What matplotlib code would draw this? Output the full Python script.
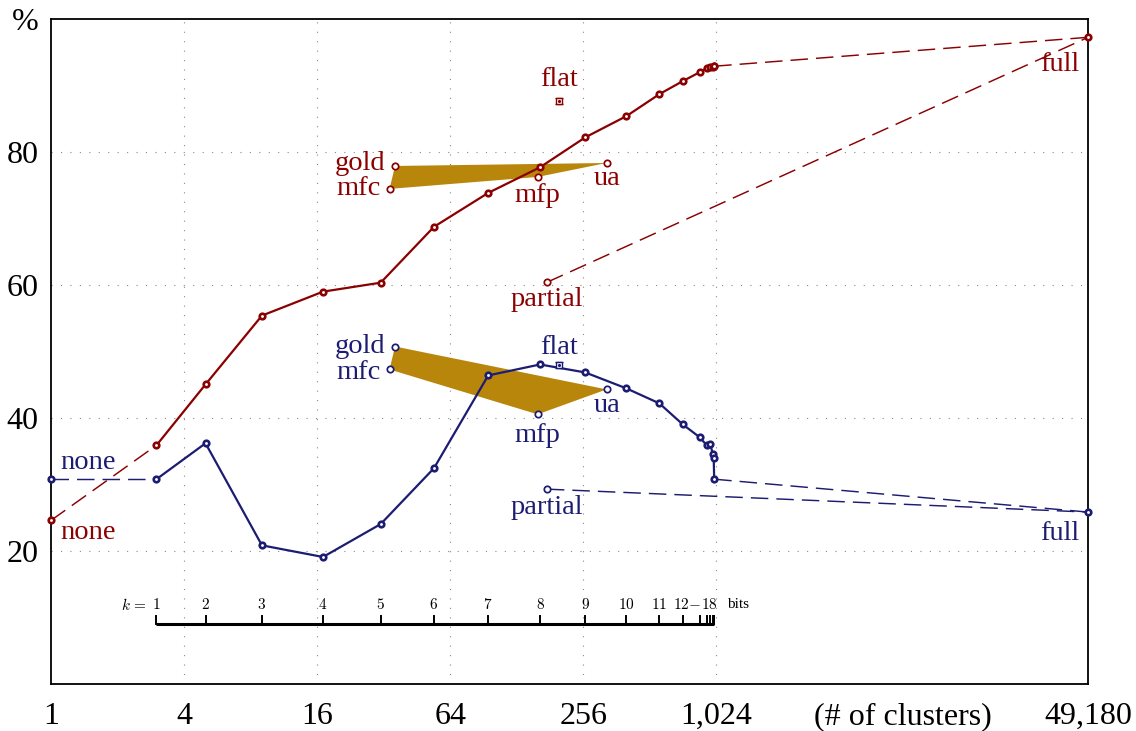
import matplotlib
matplotlib.use('Agg')
import matplotlib.pyplot as plt

plt.rcParams['font.family'] = ['Liberation Serif', 'DejaVu Serif']
plt.rcParams['mathtext.fontset'] = 'cm'

RED = '#8b0000'
BLUE = '#1c1c72'
GOLD = '#b8860b'
GRID = '#8a8a8a'

# ---------------- data ----------------
k_bits = list(range(1, 19))
k_clusters = [3, 5, 9, 17, 31, 54, 95, 163, 261, 401, 565, 720, 860, 925, 962, 985, 995, 1000]
red_k = [35.9, 45.05, 55.4, 59.0, 60.35, 68.75, 73.85, 77.7, 82.2, 85.4, 88.7, 90.65,
         92.0, 92.6, 92.75, 92.8, 92.9, 92.9]
blue_k = [30.8, 36.2, 20.85, 19.1, 24.05, 32.45, 46.4, 48.05, 46.85, 44.45, 42.2, 39.05,
          37.1, 35.9, 36.05, 34.55, 33.95, 30.8]

none_x = 1
full_x = 49180
partial_x = 175
flat_x = 198

method_names = ['gold', 'ua', 'mfp', 'mfc']
method_x = [36, 326, 159, 34]
red_methods = [77.9, 78.35, 76.25, 74.45]
blue_methods = [50.75, 44.3, 40.55, 47.3]

red_none, red_full, red_partial, red_flat = 24.6, 97.25, 60.4, 87.6
blue_none, blue_full, blue_partial, blue_flat = 30.8, 25.85, 29.3, 47.9
flat_err = 0.45

xtick_vals = [1, 4, 16, 64, 256, 1024, 7130, 49180]
xtick_labels = ['1', '4', '16', '64', '256', '1,024', '(# of clusters)', '49,180']
xgrid_vals = [4, 16, 64, 256, 1024]
ytick_vals = [20, 40, 60, 80, 100]
ytick_labels = ['20', '40', '60', '80', '%']
ygrid_vals = [20, 40, 60, 80]

k_tick_labels = [str(k) for k in range(1, 12)]

# ---------------- figure ----------------
fig = plt.figure(figsize=(11.36, 7.31), dpi=100)
ax = fig.add_axes([0.0449, 0.0643, 0.913, 0.9097])
ax.set_xscale('log', base=2)
ax.set_xlim(1, 49180)
ax.set_ylim(0, 100)

for s in ax.spines.values():
    s.set_linewidth(1.3)
    s.set_color('black')

ax.set_xticks(xtick_vals)
ax.set_xticklabels(xtick_labels)
ax.xaxis.set_minor_locator(matplotlib.ticker.NullLocator())
ax.set_yticks(ytick_vals)
ax.set_yticklabels(ytick_labels)
ax.tick_params(axis='both', length=0, labelsize=23)
ax.tick_params(axis='x', pad=13)
ax.tick_params(axis='y', pad=9)

dot = (0, (1, 7.5))
for gx in xgrid_vals:
    ax.axvline(gx, color=GRID, lw=0.8, ls=dot, zorder=0.5)
for gy in ygrid_vals:
    ax.axhline(gy, color=GRID, lw=0.8, ls=dot, zorder=0.5)

# method polygons
ax.fill(method_x, red_methods, color=GOLD, zorder=1, lw=0)
ax.fill(method_x, blue_methods, color=GOLD, zorder=1, lw=0)

line_marker = dict(marker='o', ms=4.0, mew=1.9, mfc='white')
open_marker = dict(marker='o', ms=4.6, mew=1.25, mfc='white', ls='none', zorder=5)
dash = (0, (12, 5.5))

for color, kv, nonev, fullv, partv, flatv, meth in [
        (RED, red_k, red_none, red_full, red_partial, red_flat, red_methods),
        (BLUE, blue_k, blue_none, blue_full, blue_partial, blue_flat, blue_methods)]:
    # dashed connectors
    ax.plot([none_x, k_clusters[0]], [nonev, kv[0]], color=color, lw=1.05, ls=dash, zorder=2)
    ax.plot([k_clusters[-1], full_x], [kv[-1], fullv], color=color, lw=1.05, ls=dash, zorder=2)
    ax.plot([partial_x, full_x], [partv, fullv], color=color, lw=1.05, ls=dash, zorder=2)
    # main solid line
    ax.plot(k_clusters, kv, color=color, lw=1.6, mec=color, zorder=3, **line_marker)
    # none / full endpoints
    ax.plot([none_x, full_x], [nonev, fullv], ls='none', color=color, mec=color,
            zorder=4, clip_on=False, **line_marker)
    # partial & methods
    ax.plot([partial_x], [partv], mec=color, **open_marker)
    ax.plot(method_x, meth, mec=color, **open_marker)
    # flat with error bar
    ax.errorbar([flat_x], [flatv], yerr=flat_err, fmt='s', ms=4.2, mfc='white', mec=color,
                mew=1.0, ecolor=color, elinewidth=1.0, capsize=3.2, capthick=1.6, zorder=5)
    ax.plot([flat_x], [flatv], marker='.', ms=2.5, color=color, zorder=6)

LFS = 20.5


def label(text, x, y, dx, dy, color, ha='center'):
    ax.annotate(text, (x, y), xytext=(dx, dy), textcoords='offset points',
                ha=ha, va='center', color=color, fontsize=LFS, zorder=7)


# red labels
label('flat', flat_x, red_flat, 0, 16, RED)
label('gold', method_x[0], red_methods[0], -7, 1.5, RED, 'right')
label('mfc', method_x[3], red_methods[3], -6.5, 0, RED, 'right')
label('mfp', method_x[2], red_methods[2], 0, -13.5, RED)
label('ua', method_x[1], red_methods[1], 0, -11.5, RED)
label('partial', partial_x, red_partial, 0, -12.5, RED)
label('full', full_x, red_full, -6.5, -19.5, RED, 'right')
label('none', none_x, red_none, 6.5, -8.5, RED, 'left')
# blue labels
label('flat', flat_x, blue_flat, 0, 13, BLUE)
label('gold', method_x[0], blue_methods[0], -7, 0, BLUE, 'right')
label('mfc', method_x[3], blue_methods[3], -6.5, -2, BLUE, 'right')
label('mfp', method_x[2], blue_methods[2], 0, -15, BLUE)
label('ua', method_x[1], blue_methods[1], 0, -11.5, BLUE)
label('partial', partial_x, blue_partial, 0, -13.5, BLUE)
label('full', full_x, blue_full, -6.5, -15.5, BLUE, 'right')
label('none', none_x, blue_none, 6.5, 12, BLUE, 'left')

# k-bits scale
kaxis_y = 9.0
ktick_top = 10.2
klabel_y = 11.9
ax.plot([k_clusters[0], k_clusters[-1]], [kaxis_y, kaxis_y], color='black', lw=2.2,
        solid_capstyle='butt', zorder=3)
for c in k_clusters:
    ax.plot([c, c], [kaxis_y, ktick_top], color='black', lw=1.4, zorder=3)
for c, t in zip(k_clusters[:11], k_tick_labels):
    ax.text(c, klabel_y, '$' + t + '$', ha='center', va='center', fontsize=11)
ax.annotate('$k\\,=$', (k_clusters[0], klabel_y), xytext=(-7, 0), textcoords='offset points',
            ha='right', va='center', fontsize=11)
ax.annotate('$12\\!-\\!18$', (k_clusters[11], klabel_y), xytext=(-6.8, 0),
            textcoords='offset points', ha='left', va='center', fontsize=11)
ax.annotate('bits', (k_clusters[-1], klabel_y), xytext=(9, 0), textcoords='offset points',
            ha='left', va='center', fontsize=11)

fig.savefig('out.png', dpi=100)
